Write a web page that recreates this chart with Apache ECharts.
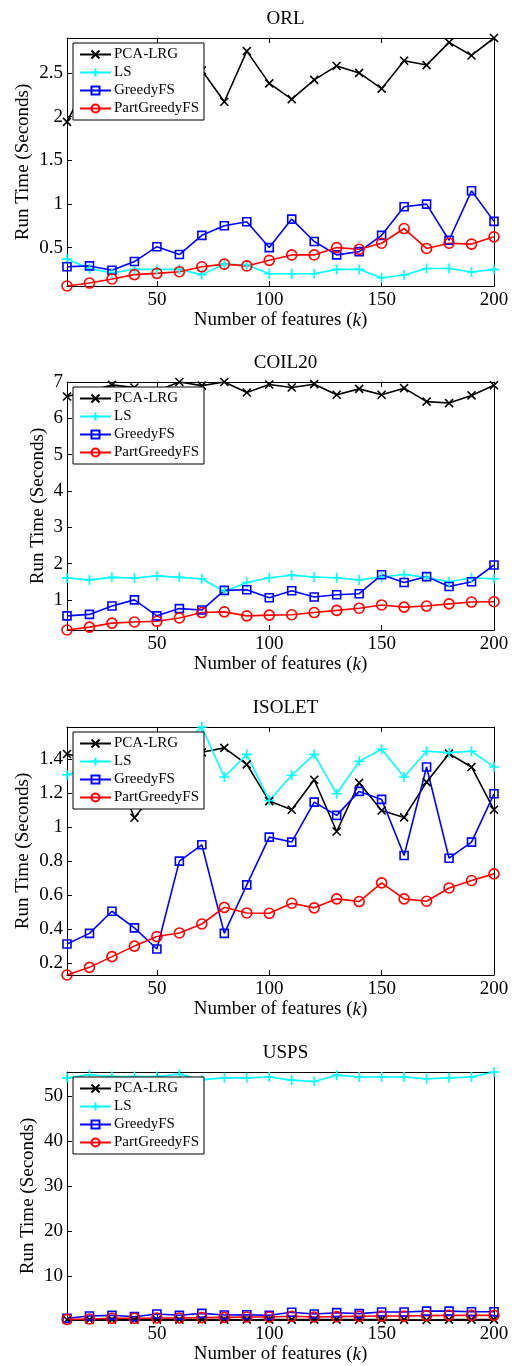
<!DOCTYPE html>
<html>
<head>
<meta charset="utf-8">
<script src="https://cdn.jsdelivr.net/npm/echarts@6/dist/echarts.min.js"></script>
<style>
  html, body { margin: 0; padding: 0; background: #fff; }
  #chart { width: 515px; height: 1366px; }
</style>
</head>
<body>
<div id="chart"></div>
<script>
// number of selected features (k)
const features = [10, 20, 30, 40, 50, 60, 70, 80, 90, 100, 110, 120, 130, 140, 150, 160, 170, 180, 190, 200]
const methods = ['PCA-LRG', 'LS', 'GreedyFS', 'PartGreedyFS']
const panelTitles = ['ORL', 'COIL20', 'ISOLET', 'USPS']

// ORL run times (seconds)
const orlPca = [1.94, 2.45, 2.6, 2.55, 2.65, 2.6, 2.53, 2.17, 2.75, 2.38, 2.2, 2.42, 2.58, 2.5, 2.32, 2.64, 2.59, 2.85, 2.7, 2.9]
const orlLs = [0.37, 0.26, 0.21, 0.25, 0.25, 0.25, 0.19, 0.31, 0.3, 0.2, 0.2, 0.2, 0.25, 0.25, 0.155, 0.186, 0.26, 0.26, 0.22, 0.25]
const orlGreedy = [0.28, 0.29, 0.24, 0.34, 0.51, 0.42, 0.64, 0.75, 0.795, 0.5, 0.826, 0.57, 0.416, 0.454, 0.64, 0.967, 0.998, 0.584, 1.15, 0.8]
const orlPart = [0.06, 0.094, 0.14, 0.19, 0.205, 0.224, 0.28, 0.31, 0.29, 0.354, 0.416, 0.416, 0.5, 0.48, 0.55, 0.718, 0.49, 0.55, 0.54, 0.623]

// COIL20 run times (seconds)
const coilPca = [6.6, 6.75, 6.92, 6.85, 6.75, 7.0, 6.9, 7.0, 6.71, 6.93, 6.85, 6.94, 6.65, 6.81, 6.65, 6.83, 6.46, 6.42, 6.63, 6.91]
const coilLs = [1.6, 1.55, 1.62, 1.6, 1.66, 1.62, 1.58, 1.23, 1.48, 1.61, 1.68, 1.63, 1.61, 1.55, 1.63, 1.7, 1.62, 1.5, 1.61, 1.58]
const coilGreedy = [0.56, 0.6, 0.83, 1.0, 0.56, 0.76, 0.72, 1.26, 1.28, 1.06, 1.25, 1.08, 1.14, 1.17, 1.69, 1.48, 1.64, 1.37, 1.5, 1.96]
const coilPart = [0.17, 0.25, 0.36, 0.39, 0.41, 0.5, 0.65, 0.67, 0.56, 0.58, 0.59, 0.65, 0.71, 0.77, 0.86, 0.8, 0.83, 0.89, 0.94, 0.95]

// ISOLET run times (seconds)
const isoPca = [1.43, 1.4, 1.38, 1.055, 1.22, 1.38, 1.44, 1.466, 1.369, 1.153, 1.102, 1.279, 0.974, 1.261, 1.098, 1.057, 1.265, 1.432, 1.354, 1.102]
const isoLs = [1.308, 1.35, 1.4, 1.38, 1.45, 1.47, 1.589, 1.295, 1.428, 1.157, 1.305, 1.428, 1.196, 1.387, 1.458, 1.295, 1.446, 1.438, 1.446, 1.354]
const isoGreedy = [0.312, 0.375, 0.505, 0.407, 0.283, 0.8, 0.896, 0.375, 0.66, 0.941, 0.912, 1.147, 1.069, 1.21, 1.163, 0.833, 1.354, 0.817, 0.912, 1.196]
const isoPart = [0.13, 0.175, 0.238, 0.3, 0.356, 0.377, 0.43, 0.528, 0.495, 0.493, 0.552, 0.525, 0.578, 0.562, 0.672, 0.578, 0.564, 0.642, 0.686, 0.725]

// USPS run times (seconds)
const uspsPca = [0.28, 0.3, 0.31, 0.29, 0.3, 0.3, 0.31, 0.3, 0.29, 0.3, 0.31, 0.3, 0.3, 0.31, 0.3, 0.29, 0.22, 0.3, 0.3, 0.31]
const uspsLs = [54.1, 54.8, 54.4, 54.4, 54.4, 54.9, 53.7, 54.1, 54.1, 54.3, 53.6, 53.3, 54.7, 54.3, 54.3, 54.3, 53.9, 54.1, 54.3, 55.4]
const uspsGreedy = [0.6, 1.1, 1.26, 0.96, 1.56, 1.26, 1.7, 1.33, 1.4, 1.26, 1.93, 1.56, 1.85, 1.63, 2.0, 2.0, 2.2, 2.2, 2.07, 2.07]
const uspsPart = [0.37, 0.44, 0.6, 0.6, 0.67, 0.67, 0.74, 0.81, 0.89, 0.89, 1.04, 0.89, 0.96, 1.04, 1.1, 1.1, 1.19, 1.26, 1.26, 1.26]

// tick labels
const xTicks = [50, 100, 150, 200]
const orlTicks = [0.5, 1, 1.5, 2, 2.5]
const coilTicks = [1, 2, 3, 4, 5, 6, 7]
const isoTicks = [0.2, 0.4, 0.6, 0.8, 1, 1.2, 1.4]
const uspsTicks = [10, 20, 30, 40, 50]

const panelData = [
  [orlPca, orlLs, orlGreedy, orlPart],
  [coilPca, coilLs, coilGreedy, coilPart],
  [isoPca, isoLs, isoGreedy, isoPart],
  [uspsPca, uspsLs, uspsGreedy, uspsPart],
]
const panelTicks = [orlTicks, coilTicks, isoTicks, uspsTicks]

const FONT = 'Liberation Serif'
const gridTops = [38, 382, 727, 1072]
const yNameGaps = [34, 19, 34, 29]
const styles = [
  { color: '#000000', symbol: 'path://M0,0L10,10M10,0L0,10', size: 8 },
  { color: '#00ffff', symbol: 'path://M5,0L5,10M0,5L10,5', size: 10 },
  { color: '#0000ff', symbol: 'rect', size: 8 },
  { color: '#ff0000', symbol: 'circle', size: 10 },
]

const chart = echarts.init(document.getElementById('chart'))

const grids = []
const xAxes = []
const yAxes = []
const titles = []
const legends = []
const series = []

panelTitles.forEach((name, i) => {
  grids.push({ left: 67, width: 427, top: gridTops[i], height: 248, containLabel: false })
  titles.push({
    text: name,
    left: 280.5,
    textAlign: 'center',
    top: gridTops[i] - 33,
    textStyle: { fontFamily: FONT, fontSize: 19, fontWeight: 'normal', color: '#000' },
  })
  legends.push({
    data: methods,
    orient: 'vertical',
    left: 73,
    top: gridTops[i] + 5,
    itemWidth: 31,
    itemHeight: 10,
    itemGap: 3,
    padding: [4, 5, 4, 6],
    borderColor: '#000',
    borderWidth: 1,
    borderRadius: 0,
    backgroundColor: '#fff',
    textStyle: { fontFamily: FONT, fontSize: 15, color: '#000', padding: [0, 0, 0, -2] },
  })
  const axisLineStyle = { show: true, lineStyle: { color: '#000', width: 1 } }
  xAxes.push({
    type: 'value',
    gridIndex: i,
    min: 10,
    max: 200,
    name: 'Number of features ({i|k})',
    nameLocation: 'middle',
    nameGap: 25,
    nameMoveOverlap: false,
    nameTextStyle: {
      fontFamily: FONT, fontSize: 19, color: '#000',
      rich: { i: { fontFamily: FONT, fontSize: 19, fontStyle: 'italic', color: '#000' } },
    },
    axisLine: axisLineStyle,
    axisTick: { inside: true, length: 5, customValues: xTicks, lineStyle: { color: '#000' } },
    axisLabel: { customValues: xTicks, margin: 5, fontFamily: FONT, fontSize: 19, color: '#000' },
    splitLine: { show: false },
  })
  xAxes.push({
    type: 'value',
    gridIndex: i,
    position: 'top',
    min: 10,
    max: 200,
    axisLine: axisLineStyle,
    axisTick: { inside: true, length: 5, customValues: xTicks, lineStyle: { color: '#000' } },
    axisLabel: { show: false },
    splitLine: { show: false },
  })
  yAxes.push({
    type: 'value',
    gridIndex: i,
    min: 'dataMin',
    max: 'dataMax',
    name: 'Run Time (Seconds)',
    nameLocation: 'middle',
    nameRotate: 90,
    nameGap: yNameGaps[i],
    nameMoveOverlap: false,
    nameTextStyle: { fontFamily: FONT, fontSize: 19, color: '#000' },
    axisLine: axisLineStyle,
    axisTick: { inside: true, length: 5, customValues: panelTicks[i], lineStyle: { color: '#000' } },
    axisLabel: { customValues: panelTicks[i], margin: 4, fontFamily: FONT, fontSize: 19, color: '#000' },
    splitLine: { show: false },
  })
  yAxes.push({
    type: 'value',
    gridIndex: i,
    position: 'right',
    min: 'dataMin',
    max: 'dataMax',
    axisLine: axisLineStyle,
    axisTick: { inside: true, length: 5, customValues: panelTicks[i], lineStyle: { color: '#000' } },
    axisLabel: { show: false },
    splitLine: { show: false },
  })
  panelData[i].forEach((vals, s) => {
    const st = styles[s]
    series.push({
      name: methods[s],
      type: 'line',
      xAxisIndex: i * 2,
      yAxisIndex: i * 2,
      data: features.map((k, j) => [k, vals[j]]),
      symbol: st.symbol,
      symbolSize: st.size,
      showAllSymbol: true,
      lineStyle: { color: st.color, width: 1.6 },
      itemStyle: { color: 'rgba(0,0,0,0)', borderColor: st.color, borderWidth: 1.6 },
      emphasis: { disabled: true },
      animation: false,
    })
  })
})

chart.setOption({
  animation: false,
  textStyle: { fontFamily: FONT },
  title: titles,
  legend: legends,
  grid: grids,
  xAxis: xAxes,
  yAxis: yAxes,
  series,
})
</script>
</body>
</html>
